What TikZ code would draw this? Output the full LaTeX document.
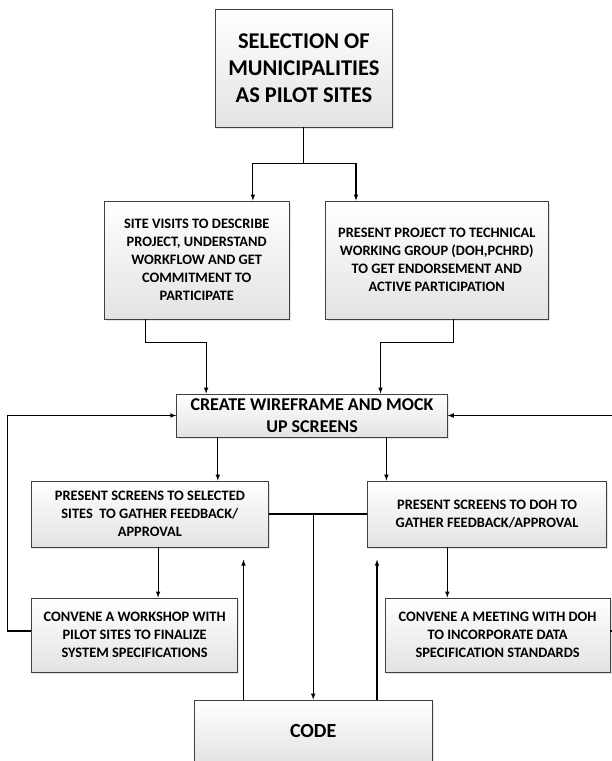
\documentclass[tikz,border=0pt]{standalone}
\usepackage{fontspec}
\setmainfont{Carlito}
\usetikzlibrary{shadows}
\begin{document}
\begin{tikzpicture}[x=1pt, y=-1pt, line width=1.1pt, >=latex]
\tikzset{box/.style={draw=black!75, line width=0.8pt, top color=white, bottom color=gray!22, align=center, inner sep=0pt,
    drop shadow={opacity=0.2, shadow xshift=1.5pt, shadow yshift=-1.5pt}},
  big/.style={box, font=\fontsize{22.5}{26.7}\selectfont\bfseries},
  mid/.style={box, font=\fontsize{18}{21.7}\selectfont\bfseries},
  small/.style={box, font=\fontsize{14.4}{17.9}\selectfont\bfseries}}
\useasboundingbox (0,0) rectangle (612,761);
\clip (0,0) rectangle (612,761);
% boxes
\node[big, minimum width=177pt, minimum height=118pt] (top) at (303.9,68) {SELECTION OF\\MUNICIPALITIES\\AS PILOT SITES};
\node[small, minimum width=185pt, minimum height=118pt] (sites) at (196.7,260) {SITE VISITS TO DESCRIBE\\PROJECT, UNDERSTAND\\WORKFLOW AND GET\\COMMITMENT TO\\PARTICIPATE};
\node[small, minimum width=222.5pt, minimum height=118pt] (twg) at (436.8,260) {PRESENT PROJECT TO TECHNICAL\\WORKING GROUP (DOH,PCHRD)\\TO GET ENDORSEMENT AND\\ACTIVE PARTICIPATION};
\node[mid, minimum width=270.5pt, minimum height=43pt] (wire) at (312,415.5) {CREATE WIREFRAME AND MOCK\\UP SCREENS};
\node[small, minimum width=236.5pt, minimum height=66pt] (pss) at (149.9,514) {PRESENT SCREENS TO SELECTED\\SITES\ \ TO GATHER FEEDBACK/\\APPROVAL};
\node[small, minimum width=238.8pt, minimum height=66pt] (psd) at (487.1,514) {PRESENT SCREENS TO DOH TO\\GATHER FEEDBACK/APPROVAL};
\node[small, minimum width=206pt, minimum height=74pt] (work) at (134.6,635) {CONVENE A WORKSHOP WITH\\PILOT SITES TO FINALIZE\\SYSTEM SPECIFICATIONS};
\node[small, minimum width=224.8pt, minimum height=74pt] (meet) at (497.6,635) {CONVENE A MEETING WITH DOH\\TO INCORPORATE DATA\\SPECIFICATION STANDARDS};
\node[box, font=\fontsize{20}{24}\selectfont\bfseries, minimum width=237.7pt, minimum height=63pt] (code) at (313.2,731.5) {CODE};
% arrows
\draw[->] (top.south) -- ++(0,36) -| ([xshift=56.2pt]sites.north);
\draw[->] (top.south) -- ++(0,36) -| ([xshift=-80.8pt]twg.north);
\draw[->] ([xshift=-51.5pt]sites.south) -- ++(0,23) -| ([xshift=-105.9pt]wire.north);
\draw[->] ([xshift=16.3pt]twg.south) -- ++(0,23) -| ([xshift=68.5pt]wire.north);
\draw[->] ([xshift=-94.2pt]wire.south) -- ([xshift=-94.2pt]wire.south |- pss.north);
\draw[->] ([xshift=74.4pt]wire.south) -- ([xshift=74.4pt]wire.south |- psd.north);
\draw (pss.east) -- (psd.west);
\draw[->] (pss.east -| code.north) -- (code.north);
\draw[->] ([xshift=-69.7pt]code.north) -- ++(0,-140);
\draw[->] ([xshift=63.8pt]code.north) -- ++(0,-140);
\draw[->] ([xshift=8.2pt]pss.south) -- ([xshift=8.2pt]pss.south |- work.north);
\draw[->] ([xshift=-39.8pt]psd.south) -- ([xshift=-39.8pt]psd.south |- meet.north);
% feedback loops
\draw[->] ([yshift=4pt]work.west) -- ++(-23.4,0) |- (wire.west);
\draw[->] ([yshift=4pt]meet.east) -- ++(40,0) |- (wire.east);
\end{tikzpicture}
\end{document}
